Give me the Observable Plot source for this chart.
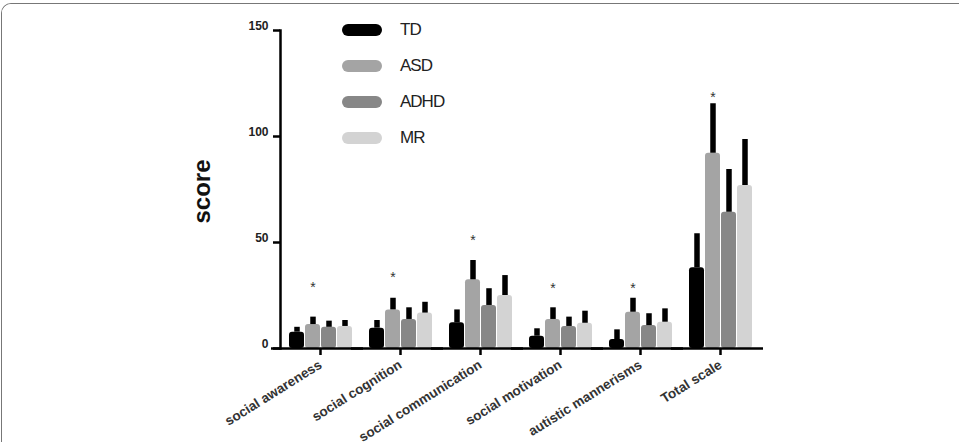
<!DOCTYPE html>
<html>
<head>
<meta charset="utf-8">
<script src="https://cdn.jsdelivr.net/npm/d3@7"></script>
<script src="https://cdn.jsdelivr.net/npm/@observablehq/plot@0.6"></script>
<style>
  body { margin: 0; background: #fff; font-family: "Liberation Sans", Arial, sans-serif; }
  #wrap { position: relative; margin: 3px 0 0 1px; width: 958px; height: 439px; overflow: hidden;
          border-top: 1px solid #777; border-left: 1px solid #777; border-top-left-radius: 10px; }
  #chart { margin: -4px 0 0 -2px; width: 959px; height: 442px; }
  #chart svg { display: block; }
  #legend { position: absolute; left: 340px; top: 8px; }
  .item { display: flex; align-items: center; height: 36px; }
  .sw { width: 40px; height: 12px; border-radius: 6px; margin-right: 18px; }
  .lab { font-size: 17px; letter-spacing: -1px; color: #222; }
</style>
</head>
<body>
<div id="wrap">
  <div id="chart"></div>
  <div id="legend"></div>
</div>
<script>
const categories = ["social awareness", "social cognition", "social communication",
                    "social motivation", "autistic mannerisms", "Total scale"];
const groups = ["TD", "ASD", "ADHD", "MR"];
const colors = ["#000000", "#a4a4a4", "#878787", "#d3d3d3"];

// means
const tdMean   = [7.7, 9.6, 12.1, 5.8, 4.2, 38.1];
const asdMean  = [11.3, 18.2, 32.4, 13.7, 17.1, 92.1];
const adhdMean = [10.0, 13.7, 20.3, 10.4, 10.8, 64.3];
const mrMean   = [10.4, 16.7, 25.0, 11.9, 12.4, 76.9];
// upper end of error bar
const tdUpper   = [10.0, 13.2, 18.2, 9.3, 8.8, 54.1];
const asdUpper  = [14.8, 23.7, 41.5, 19.2, 23.7, 115.4];
const adhdUpper = [12.9, 19.2, 28.2, 14.8, 16.4, 84.4];
const mrUpper   = [13.2, 21.8, 34.4, 17.6, 18.7, 98.6];
// significance asterisks (score level where drawn)
const starScore = [30.8, 35.2, 52.8, 30.0, 30.0, 120.4];
const yTicks = [0, 50, 100, 150];

const means = [tdMean, asdMean, adhdMean, mrMean];
const uppers = [tdUpper, asdUpper, adhdUpper, mrUpper];
const rows = [];
categories.forEach((c, i) => groups.forEach((g, j) => {
  rows.push({cat: c, group: g, mean: means[j][i], upper: uppers[j][i]});
}));
const stars = categories.map((c, i) => ({cat: c, y: starScore[i]}));

const font = "'Liberation Sans', Arial, sans-serif";
const chart = Plot.plot({
  width: 959, height: 442,
  marginLeft: 280, marginRight: 199, marginTop: 30, marginBottom: 94,
  style: {fontFamily: font, background: "#fff"},
  fx: {domain: categories, padding: 0, label: null},
  x: {domain: groups, paddingInner: 0.08, paddingOuter: 0.4, axis: null},
  y: {domain: [0, 150], axis: null},
  color: {domain: groups, range: colors},
  marks: [
    Plot.barY(rows, {fx: "cat", x: "group", y: "mean", fill: "group", rx: 3}),
    Plot.ruleX(rows, {fx: "cat", x: "group", y1: "mean", y2: "upper", stroke: "#000", strokeWidth: 5.5}),
    Plot.text(stars, {fx: "cat", x: () => "ASD", y: "y", text: () => "*", fontSize: 14, fill: "#333", dy: 4}),
    // x baseline
    Plot.ruleY([0], {stroke: "#000", strokeWidth: 2.5, insetLeft: -9, insetRight: -3}),
    // y axis line and ticks
    Plot.frame({anchor: "left", facetAnchor: "left", stroke: "#000", strokeWidth: 2.5}),
    Plot.axisY({ticks: yTicks, tickSize: 7, stroke: "#000", strokeWidth: 2.5, fill: "none", label: null}),
    // y tick labels, sitting just above their ticks
    Plot.axisY({ticks: yTicks, tickSize: 0, tickPadding: 12, dy: -4, fontSize: 12,
                fontWeight: "bold", fill: "#222", label: null}),
    Plot.text(["score"], {frameAnchor: "left", facetAnchor: "left", rotate: -90, dx: -78, dy: 2,
                          textAnchor: "middle", fontSize: 24, fontWeight: "bold", fill: "#111"}),
    Plot.axisFx({anchor: "bottom", tickSize: 7, stroke: "#000", strokeWidth: 2.5, tickRotate: -32,
                 tickPadding: 8, fontSize: 13.5, fontWeight: "bold", label: null, fill: "#333"})
  ]
});
document.getElementById("chart").appendChild(chart);

const legend = document.getElementById("legend");
groups.forEach((g, j) => {
  const it = document.createElement("div");
  it.className = "item";
  it.innerHTML = `<div class="sw" style="background:${colors[j]}"></div><span class="lab">${g}</span>`;
  legend.appendChild(it);
});
</script>
</body>
</html>
